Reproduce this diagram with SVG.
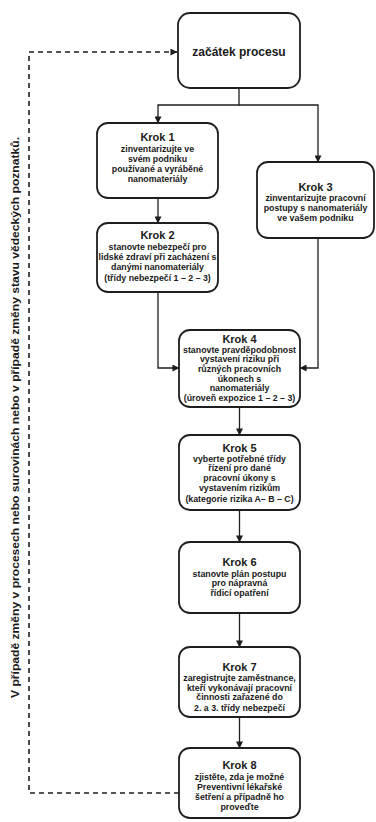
<svg xmlns="http://www.w3.org/2000/svg" width="376" height="822" viewBox="0 0 376 822">
<style>
.box{fill:#fff;stroke:#1e1e1e;stroke-width:1.8}
.t{font-family:"Liberation Sans",Arial,sans-serif;font-weight:bold;fill:#1a1a1a;text-anchor:middle}
.ti{font-size:11px}
.b{font-size:8.8px}
.c{fill:none;stroke:#1e1e1e;stroke-width:1.3}
.d{fill:none;stroke:#1e1e1e;stroke-width:1.6;stroke-dasharray:5 4}
</style>
<defs>
<marker id="ah" viewBox="0 0 8 8" refX="7.5" refY="4" markerWidth="7" markerHeight="7" markerUnits="userSpaceOnUse" orient="auto">
<path d="M0 0 L8 4 L0 8 Z" fill="#1e1e1e"/>
</marker>
</defs>
<rect width="376" height="822" fill="#fff"/>
<g id="connectors">
<path class="c" d="M239 88 V105 H158 V123" marker-end="url(#ah)"/>
<path class="c" d="M239 105 H318 V162" marker-end="url(#ah)"/>
<path class="c" d="M158 198 V223" marker-end="url(#ah)"/>
<path class="c" d="M158 292 V368 H179" marker-end="url(#ah)"/>
<path class="c" d="M318 238 V368 H300" marker-end="url(#ah)"/>
<path class="c" d="M239.5 407 V435" marker-end="url(#ah)"/>
<path class="c" d="M239.5 510 V542" marker-end="url(#ah)"/>
<path class="c" d="M239.5 613 V647" marker-end="url(#ah)"/>
<path class="c" d="M239.5 717 V748" marker-end="url(#ah)"/>
<path class="d" d="M179 793 H29 V52 H177" marker-end="url(#ah)"/>
</g>
<g id="loop-label">
<text class="t" transform="translate(19,417.5) rotate(-90)" style="font-size:11px" textLength="561" lengthAdjust="spacingAndGlyphs">V případě změny v procesech nebo surovinách nebo v případě změny stavu vědeckých poznatků.</text>
</g>
<g id="start">
<rect class="box" x="178" y="13" width="122" height="75" rx="12"/>
<text class="t" x="239" y="56" style="font-size:12px">začátek procesu</text>
</g>
<g id="krok1">
<rect class="box" x="97" y="123" width="121" height="75" rx="11"/>
<text class="t ti" x="157.5" y="141">Krok 1</text>
<text class="t b" x="157.5" y="152">zinventarizujte ve</text>
<text class="t b" x="157.5" y="162">svém podniku</text>
<text class="t b" x="157.5" y="172">používané a vyráběné</text>
<text class="t b" x="157.5" y="182">nanomateriály</text>
</g>
<g id="krok2">
<rect class="box" x="97" y="223" width="121" height="69" rx="11"/>
<text class="t ti" x="157.5" y="239">Krok 2</text>
<text class="t b" x="157.5" y="250">stanovte nebezpečí pro</text>
<text class="t b" x="157.5" y="260">lidské zdraví při zacházení s</text>
<text class="t b" x="157.5" y="270">danými nanomateriály</text>
<text class="t b" x="157.5" y="280.5">(třídy nebezpečí 1 – 2 – 3)</text>
</g>
<g id="krok3">
<rect class="box" x="257" y="162" width="117" height="76" rx="11"/>
<text class="t ti" x="315.5" y="191">Krok 3</text>
<text class="t b" x="315.5" y="200.5">zinventarizujte pracovní</text>
<text class="t b" x="315.5" y="210.5">postupy s nanomateriály</text>
<text class="t b" x="315.5" y="221">ve vašem podniku</text>
</g>
<g id="krok4">
<rect class="box" x="179" y="330" width="121" height="77" rx="11"/>
<text class="t ti" x="239.5" y="343">Krok 4</text>
<text class="t b" x="239.5" y="352.5">stanovte pravděpodobnost</text>
<text class="t b" x="239.5" y="362.3">vystavení riziku při</text>
<text class="t b" x="239.5" y="372">různých pracovních</text>
<text class="t b" x="239.5" y="381.5">úkonech s</text>
<text class="t b" x="239.5" y="391.2">nanomateriály</text>
<text class="t b" x="239.5" y="401">(úroveň expozice 1 – 2 – 3)</text>
</g>
<g id="krok5">
<rect class="box" x="179" y="435" width="121" height="75" rx="11"/>
<text class="t ti" x="239.5" y="452">Krok 5</text>
<text class="t b" x="239.5" y="461.5">vyberte potřebné třídy</text>
<text class="t b" x="239.5" y="471.3">řízení pro dané</text>
<text class="t b" x="239.5" y="481.2">pracovní úkony s</text>
<text class="t b" x="239.5" y="491">vystavením rizikům</text>
<text class="t b" x="239.5" y="501.5">(kategorie rizika A– B – C)</text>
</g>
<g id="krok6">
<rect class="box" x="179" y="542" width="121" height="71" rx="11"/>
<text class="t ti" x="239.5" y="566">Krok 6</text>
<text class="t b" x="239.5" y="576.5">stanovte plán postupu</text>
<text class="t b" x="239.5" y="586.3">pro nápravná</text>
<text class="t b" x="239.5" y="596.2">řídicí opatření</text>
</g>
<g id="krok7">
<rect class="box" x="179" y="647" width="121" height="70" rx="11"/>
<text class="t ti" x="239.5" y="671">Krok 7</text>
<text class="t b" x="239.5" y="681">zaregistrujte zaměstnance,</text>
<text class="t b" x="239.5" y="690.7">kteří vykonávají pracovní</text>
<text class="t b" x="239.5" y="700.4">činnosti zařazené do</text>
<text class="t b" x="239.5" y="710.5">2. a 3. třídy nebezpečí</text>
</g>
<g id="krok8">
<rect class="box" x="179" y="748" width="121" height="70" rx="11"/>
<text class="t ti" x="239.5" y="769">Krok 8</text>
<text class="t b" x="239.5" y="780">zjistěte, zda je možné</text>
<text class="t b" x="239.5" y="790">Preventivní lékařské</text>
<text class="t b" x="239.5" y="800">šetření a případně ho</text>
<text class="t b" x="239.5" y="810">proveďte</text>
</g>
</svg>
